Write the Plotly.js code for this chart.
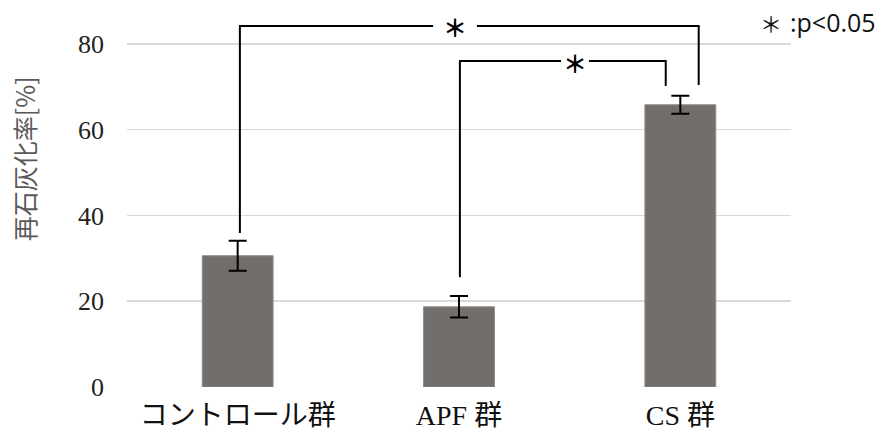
<!DOCTYPE html>
<html>
<head>
<meta charset="utf-8">
<script src="https://cdn.plot.ly/plotly-3.0.1.min.js"></script>
<style>html,body{margin:0;padding:0;background:#fff;}#chart{width:891px;height:435px;}</style>
</head>
<body>
<div id="chart"></div>
<script>
// Data
const categories = ["コントロール群", "APF 群", "CS 群"];
const means = [30.6, 18.7, 65.8];
const errors = [3.5, 2.5, 2.1];
const yTickVals = [0, 20, 40, 60, 80];
const yTickText = ["0", "20", "40", "60", "80"];
// significance comparisons
const compLeft = [0, 1];
const compRight = [2, 2];
const compTop = [84.2, 76.0];
const compLeftEnd = [35.9, 25.6];
const compRightEnd = [70.4, 70.2];
const sigLabel = "＊";
const legendStar = "＊";
const legendText = ":p<0.05";

// visual offsets (category units)
const legOffL = [0.01, 0.004];
const legOffR = [0.083, -0.066];
const starX = [0.982, 1.524];
const gapHalf = [0.099, 0.063];

const shapes = [];
const annotations = [];
for (let i = 0; i < compLeft.length; i++) {
  const xl = compLeft[i] + legOffL[i];
  const xr = compRight[i] + legOffR[i];
  const line = {color: "#000", width: 2};
  shapes.push({type: "line", xref: "x", yref: "y", x0: xl, x1: xl, y0: compLeftEnd[i], y1: compTop[i], line});
  shapes.push({type: "line", xref: "x", yref: "y", x0: xr, x1: xr, y0: compRightEnd[i], y1: compTop[i], line});
  shapes.push({type: "line", xref: "x", yref: "y", x0: xl - 0.004, x1: starX[i] - gapHalf[i], y0: compTop[i], y1: compTop[i], line});
  shapes.push({type: "line", xref: "x", yref: "y", x0: starX[i] + gapHalf[i], x1: xr + 0.004, y0: compTop[i], y1: compTop[i], line});
  annotations.push({xref: "x", yref: "y", x: starX[i], y: compTop[i], text: "<b>" + sigLabel + "</b>", showarrow: false,
    font: {family: "Noto Sans CJK JP", size: 24, color: "#000"}, xanchor: "center", yanchor: "middle", yshift: -1});
}
annotations.push({xref: "paper", yref: "paper", x: 0.951, y: 0.945, xanchor: "left", yanchor: "middle",
  text: legendStar, showarrow: false, font: {family: "Noto Sans CJK JP", size: 22, color: "#111"}});
annotations.push({xref: "paper", yref: "paper", x: 0.996, y: 0.945, xanchor: "left", yanchor: "middle",
  text: legendText, showarrow: false, font: {family: "Open Sans", size: 25, color: "#111"}});
annotations.push({xref: "paper", yref: "paper", x: -0.154, y: 0.592, xanchor: "center", yanchor: "middle",
  text: "再石灰化率[%]", textangle: -90, showarrow: false, font: {family: "Noto Sans CJK JP", size: 25, color: "#595959"}});

const trace = {
  type: "bar",
  x: categories,
  y: means,
  marker: {color: "rgb(114,110,108)", line: {color: "#8e8a89", width: 1}},
  error_y: {type: "data", array: errors, visible: true, color: "#000", thickness: 2, width: 9},
  hoverinfo: "none"
};

const layout = {
  width: 891, height: 435,
  margin: {l: 127, r: 100, t: 1, b: 48},
  paper_bgcolor: "#fff", plot_bgcolor: "#fff",
  bargap: 0.68,
  showlegend: false,
  xaxis: {
    type: "category",
    range: [-0.5, 2.5],
    showgrid: false, zeroline: false, showline: false,
    ticks: "", ticklabelstandoff: 9,
    tickfont: {family: "Liberation Serif, Noto Sans CJK JP", size: 28, color: "#111"}
  },
  yaxis: {
    range: [0, 90],
    tickvals: yTickVals, ticktext: yTickText,
    showgrid: true, gridcolor: "#d9d9d9", gridwidth: 1.5,
    zeroline: false, showline: false,
    ticks: "", ticklabelstandoff: 22,
    tickfont: {family: "Liberation Serif", size: 26, color: "#222"}
  },
  shapes: shapes,
  annotations: annotations
};

Plotly.newPlot("chart", [trace], layout, {staticPlot: true, displayModeBar: false});
</script>
</body>
</html>
